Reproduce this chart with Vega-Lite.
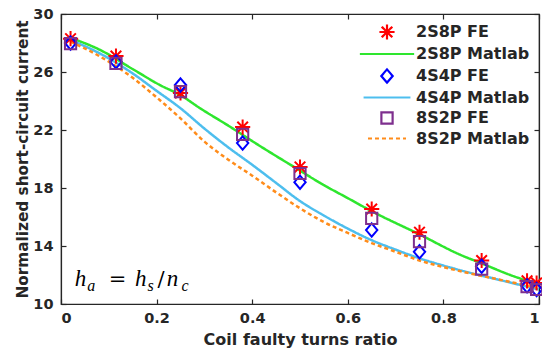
{
  "$schema": "https://vega.github.io/schema/vega-lite/v6.json",
  "width": 478,
  "height": 290,
  "autosize": {"type": "none"},
  "padding": {"left": 61, "top": 14, "right": 3, "bottom": 52},
  "background": "white",
  "config": {
    "view": {"stroke": "#262626", "strokeWidth": 1.2},
    "font": "DejaVu Sans",
    "axis": {
      "grid": false,
      "domainColor": "#262626",
      "domainWidth": 1.2,
      "tickColor": "#262626",
      "tickWidth": 1.2,
      "tickSize": -5,
      "labelFont": "DejaVu Sans",
      "labelFontWeight": "bold",
      "labelFontSize": 14.5,
      "labelColor": "#262626",
      "titleFont": "DejaVu Sans",
      "titleFontWeight": "bold",
      "titleColor": "#262626"
    },
    "legend": {
      "orient": "top-right",
      "offset": 9,
      "title": null,
      "labelFont": "DejaVu Sans",
      "labelFontWeight": "bold",
      "labelFontSize": 16,
      "labelColor": "#262626",
      "labelOffset": 20,
      "rowPadding": 1.5,
      "symbolStrokeWidth": 2.2
    }
  },
  "datasets": {
    "fe": [
      {"series": "2S8P FE", "x": 0.02, "y": 28.3},
      {"series": "2S8P FE", "x": 0.115, "y": 27.1},
      {"series": "2S8P FE", "x": 0.25, "y": 24.55},
      {"series": "2S8P FE", "x": 0.38, "y": 22.2},
      {"series": "2S8P FE", "x": 0.5, "y": 19.45},
      {"series": "2S8P FE", "x": 0.65, "y": 16.55},
      {"series": "2S8P FE", "x": 0.75, "y": 14.95},
      {"series": "2S8P FE", "x": 0.88, "y": 13.0},
      {"series": "2S8P FE", "x": 0.975, "y": 11.6},
      {"series": "2S8P FE", "x": 0.995, "y": 11.45},
      {"series": "4S4P FE", "x": 0.02, "y": 28.0},
      {"series": "4S4P FE", "x": 0.115, "y": 26.7},
      {"series": "4S4P FE", "x": 0.25, "y": 25.1},
      {"series": "4S4P FE", "x": 0.38, "y": 21.1},
      {"series": "4S4P FE", "x": 0.5, "y": 18.4},
      {"series": "4S4P FE", "x": 0.65, "y": 15.1},
      {"series": "4S4P FE", "x": 0.75, "y": 13.6},
      {"series": "4S4P FE", "x": 0.88, "y": 12.6},
      {"series": "4S4P FE", "x": 0.975, "y": 11.25},
      {"series": "4S4P FE", "x": 0.995, "y": 11.0},
      {"series": "8S2P FE", "x": 0.02, "y": 27.95},
      {"series": "8S2P FE", "x": 0.115, "y": 26.6},
      {"series": "8S2P FE", "x": 0.25, "y": 24.65},
      {"series": "8S2P FE", "x": 0.38, "y": 21.7},
      {"series": "8S2P FE", "x": 0.5, "y": 19.0},
      {"series": "8S2P FE", "x": 0.65, "y": 15.9},
      {"series": "8S2P FE", "x": 0.75, "y": 14.3},
      {"series": "8S2P FE", "x": 0.88, "y": 12.4},
      {"series": "8S2P FE", "x": 0.975, "y": 11.2},
      {"series": "8S2P FE", "x": 0.995, "y": 11.0}
    ],
    "lines": [
      {"series": "2S8P Matlab", "x": 0.02, "y": 28.35},
      {"series": "2S8P Matlab", "x": 0.08, "y": 27.55},
      {"series": "2S8P Matlab", "x": 0.15, "y": 26.2},
      {"series": "2S8P Matlab", "x": 0.207, "y": 25.1},
      {"series": "2S8P Matlab", "x": 0.25, "y": 24.4},
      {"series": "2S8P Matlab", "x": 0.291, "y": 23.5},
      {"series": "2S8P Matlab", "x": 0.35, "y": 22.3},
      {"series": "2S8P Matlab", "x": 0.416, "y": 20.9},
      {"series": "2S8P Matlab", "x": 0.5, "y": 19.2},
      {"series": "2S8P Matlab", "x": 0.542, "y": 18.35},
      {"series": "2S8P Matlab", "x": 0.6, "y": 17.3},
      {"series": "2S8P Matlab", "x": 0.65, "y": 16.4},
      {"series": "2S8P Matlab", "x": 0.75, "y": 14.8},
      {"series": "2S8P Matlab", "x": 0.835, "y": 13.4},
      {"series": "2S8P Matlab", "x": 0.88, "y": 12.8},
      {"series": "2S8P Matlab", "x": 0.94, "y": 12.0},
      {"series": "2S8P Matlab", "x": 1.0, "y": 11.35},
      {"series": "4S4P Matlab", "x": 0.02, "y": 28.2},
      {"series": "4S4P Matlab", "x": 0.08, "y": 27.3},
      {"series": "4S4P Matlab", "x": 0.15, "y": 25.9},
      {"series": "4S4P Matlab", "x": 0.2, "y": 24.7},
      {"series": "4S4P Matlab", "x": 0.25, "y": 23.5},
      {"series": "4S4P Matlab", "x": 0.3, "y": 22.1},
      {"series": "4S4P Matlab", "x": 0.35, "y": 20.8},
      {"series": "4S4P Matlab", "x": 0.4, "y": 19.6},
      {"series": "4S4P Matlab", "x": 0.45, "y": 18.35},
      {"series": "4S4P Matlab", "x": 0.5, "y": 17.1},
      {"series": "4S4P Matlab", "x": 0.55, "y": 16.1},
      {"series": "4S4P Matlab", "x": 0.6, "y": 15.2},
      {"series": "4S4P Matlab", "x": 0.65, "y": 14.4},
      {"series": "4S4P Matlab", "x": 0.7, "y": 13.75},
      {"series": "4S4P Matlab", "x": 0.75, "y": 13.15},
      {"series": "4S4P Matlab", "x": 0.8, "y": 12.65},
      {"series": "4S4P Matlab", "x": 0.85, "y": 12.2},
      {"series": "4S4P Matlab", "x": 0.9, "y": 11.8},
      {"series": "4S4P Matlab", "x": 0.95, "y": 11.4},
      {"series": "4S4P Matlab", "x": 1.0, "y": 11.0},
      {"series": "8S2P Matlab", "x": 0.02, "y": 28.1},
      {"series": "8S2P Matlab", "x": 0.08, "y": 27.1},
      {"series": "8S2P Matlab", "x": 0.15, "y": 25.6},
      {"series": "8S2P Matlab", "x": 0.2, "y": 24.25},
      {"series": "8S2P Matlab", "x": 0.25, "y": 22.8},
      {"series": "8S2P Matlab", "x": 0.3, "y": 21.2},
      {"series": "8S2P Matlab", "x": 0.35, "y": 19.95},
      {"series": "8S2P Matlab", "x": 0.4, "y": 18.85},
      {"series": "8S2P Matlab", "x": 0.45, "y": 17.7},
      {"series": "8S2P Matlab", "x": 0.5, "y": 16.6},
      {"series": "8S2P Matlab", "x": 0.55, "y": 15.65},
      {"series": "8S2P Matlab", "x": 0.6, "y": 14.9},
      {"series": "8S2P Matlab", "x": 0.65, "y": 14.2},
      {"series": "8S2P Matlab", "x": 0.7, "y": 13.6},
      {"series": "8S2P Matlab", "x": 0.75, "y": 13.0},
      {"series": "8S2P Matlab", "x": 0.8, "y": 12.55},
      {"series": "8S2P Matlab", "x": 0.85, "y": 12.15},
      {"series": "8S2P Matlab", "x": 0.9, "y": 11.8},
      {"series": "8S2P Matlab", "x": 0.95, "y": 11.45},
      {"series": "8S2P Matlab", "x": 1.0, "y": 11.1}
    ],
    "notes": [
      {"t": "h", "role": "var", "x": 0.029, "y": 11.24},
      {"t": "a", "role": "sub", "x": 0.055, "y": 10.9},
      {"t": "=", "role": "op", "x": 0.1, "y": 11.24},
      {"t": "h", "role": "var", "x": 0.155, "y": 11.24},
      {"t": "s", "role": "sub", "x": 0.181, "y": 10.9},
      {"t": "/", "role": "op", "x": 0.202, "y": 11.24},
      {"t": "n", "role": "var", "x": 0.221, "y": 11.24},
      {"t": "c", "role": "sub", "x": 0.252, "y": 10.9}
    ]
  },
  "layer": [
    {
      "data": {"name": "lines"},
      "mark": {"type": "line", "interpolate": "monotone", "strokeWidth": 2.5},
      "encoding": {
        "x": {"field": "x", "type": "quantitative", "scale": {"domain": [0, 1], "nice": false, "zero": false},
              "axis": {"orient": "bottom", "values": [0, 0.2, 0.4, 0.6, 0.8, 1], "format": "~g", "labelPadding": 12, "title": "Coil faulty turns ratio", "titleFontSize": 16, "titlePadding": 7}},
        "y": {"field": "y", "type": "quantitative", "scale": {"domain": [10, 30], "nice": false, "zero": false},
              "axis": {"orient": "left", "values": [10, 14, 18, 22, 26, 30], "labelPadding": 13, "title": "Normalized short-circuit current", "titleFontSize": 15.3, "titlePadding": 2}},
        "color": {"field": "series", "type": "nominal",
                  "scale": {"domain": ["2S8P FE", "2S8P Matlab", "4S4P FE", "4S4P Matlab", "8S2P FE", "8S2P Matlab"],
                            "range": ["#ff0000", "#2ee62e", "#0000ff", "#4dbeee", "#7e2f8e", "#ff8c1a"]}},
        "strokeDash": {"field": "series", "type": "nominal",
                  "scale": {"domain": ["2S8P FE", "2S8P Matlab", "4S4P FE", "4S4P Matlab", "8S2P FE", "8S2P Matlab"],
                            "range": [[1, 0], [1, 0], [1, 0], [1, 0], [1, 0], [4, 3]]}}
      }
    },
    {
      "data": {"name": "fe"},
      "mark": {"type": "point", "filled": false, "strokeWidth": 2, "opacity": 1},
      "encoding": {
        "x": {"field": "x", "type": "quantitative", "axis": {"orient": "top", "labels": false, "title": null, "values": [0, 0.2, 0.4, 0.6, 0.8, 1]}},
        "y": {"field": "y", "type": "quantitative", "axis": {"orient": "right", "labels": false, "title": null, "values": [10, 14, 18, 22, 26, 30]}},
        "color": {"field": "series", "type": "nominal"},
        "shape": {"field": "series", "type": "nominal",
                  "scale": {"domain": ["2S8P FE", "2S8P Matlab", "4S4P FE", "4S4P Matlab", "8S2P FE", "8S2P Matlab"],
                            "range": ["M0,-1L0,1M-1,0L1,0M-0.7,-0.7L0.7,0.7M-0.7,0.7L0.7,-0.7", "M-3.8,0L3.8,0", "M0,-1L0.85,0L0,1L-0.85,0Z", "M-3.8,0L3.8,0", "square", "M-3.8,0L3.8,0"]}},
        "size": {"field": "series", "type": "nominal",
                 "scale": {"domain": ["2S8P FE", "2S8P Matlab", "4S4P FE", "4S4P Matlab", "8S2P FE", "8S2P Matlab"],
                           "range": [230, 100, 280, 100, 95, 100]}}
      }
    },
    {
      "data": {"name": "notes"},
      "transform": [{"filter": "datum.role === 'var'"}],
      "mark": {"type": "text", "font": "Liberation Serif", "fontStyle": "italic", "fontSize": 23, "align": "left", "baseline": "alphabetic", "color": "#000000"},
      "encoding": {
        "x": {"field": "x", "type": "quantitative", "axis": null},
        "y": {"field": "y", "type": "quantitative", "axis": null},
        "text": {"field": "t"}
      }
    },
    {
      "data": {"name": "notes"},
      "transform": [{"filter": "datum.role === 'sub'"}],
      "mark": {"type": "text", "font": "Liberation Serif", "fontStyle": "italic", "fontSize": 16, "align": "left", "baseline": "alphabetic", "color": "#000000"},
      "encoding": {
        "x": {"field": "x", "type": "quantitative", "axis": null},
        "y": {"field": "y", "type": "quantitative", "axis": null},
        "text": {"field": "t"}
      }
    },
    {
      "data": {"name": "notes"},
      "transform": [{"filter": "datum.role === 'op'"}],
      "mark": {"type": "text", "font": "DejaVu Serif", "fontSize": 21, "align": "left", "baseline": "alphabetic", "color": "#000000"},
      "encoding": {
        "x": {"field": "x", "type": "quantitative", "axis": null},
        "y": {"field": "y", "type": "quantitative", "axis": null},
        "text": {"field": "t"}
      }
    }
  ],
  "resolve": {"axis": {"x": "independent", "y": "independent"}}
}
